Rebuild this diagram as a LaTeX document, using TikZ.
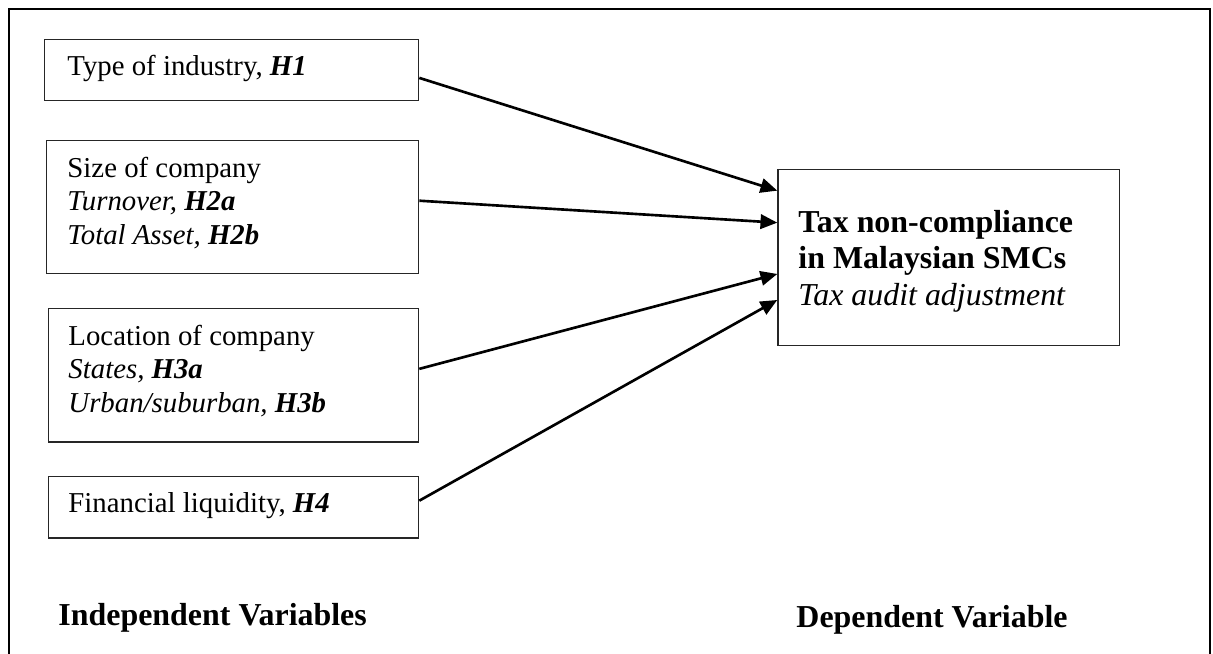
\documentclass[tikz,border=0pt]{standalone}
\usepackage{fontspec}
\setmainfont{Liberation Serif}
\usetikzlibrary{arrows.meta,calc}
\begin{document}
\begin{tikzpicture}[x=0.41667pt,y=-0.41667pt,
  box/.style={draw=black!85,line width=0.55pt,inner sep=0pt,anchor=north west},
  txt/.style={inner sep=0pt,anchor=base west,font=\fontsize{12}{14}\selectfont},
  big/.style={inner sep=0pt,anchor=base west,font=\fontsize{13.3}{15.2}\selectfont},
  arr/.style={line width=1.1pt,-{Triangle[length=7pt,width=6pt]}}]
\useasboundingbox (0,0) rectangle (1213,653);
\clip (0,0) rectangle (1213,653);
\draw[line width=1.2pt] (9,9) rectangle (1210,720);
% boxes
\node[box,minimum width=374*0.41667pt,minimum height=61.3*0.41667pt] (b1) at (44,38.7) {};
\node[box,minimum width=372*0.41667pt,minimum height=133.3*0.41667pt] (b2) at (46,139.7) {};
\node[box,minimum width=370*0.41667pt,minimum height=133.6*0.41667pt] (b3) at (48,307.7) {};
\node[box,minimum width=370*0.41667pt,minimum height=61.6*0.41667pt] (b4) at (48,475.7) {};
\node[box,minimum width=341.7*0.41667pt,minimum height=176*0.41667pt] (t) at (777.3,169) {};
% texts
\node[txt] (l1) at (67,75) {Type of industry, \textbf{\textit{H1}}};
\node[txt] (l2a) at (67,177) {Size of company};
\node[txt] (l2b) at (67,210.5) {\textit{Turnover,} \textbf{\textit{H2a}}};
\node[txt] (l2c) at (67,244) {\textit{Total Asset,} \textbf{\textit{H2b}}};
\node[txt] (l3a) at (68,345) {Location of company};
\node[txt] (l3b) at (68,378.5) {\textit{States,} \textbf{\textit{H3a}}};
\node[txt] (l3c) at (68,412) {\textit{Urban/suburban,} \textbf{\textit{H3b}}};
\node[txt] (l4) at (68,512) {Financial liquidity, \textbf{\textit{H4}}};
\node[big] (ta) at (798,232) {\textbf{Tax non-compliance}};
\node[big] (tb) at (798,268.5) {\textbf{in Malaysian SMCs}};
\node[big] (tc) at (798,305) {\textit{Tax audit adjustment}};
\node[big] (iv) at (58,625) {\textbf{Independent Variables}};
\node[big] (dv) at (796,627) {\textbf{Dependent Variable}};
% arrows
\draw[arr] ($(b1.east)+(0,7.9)$) -- ($(t.west)+(0,-67)$);
\draw[arr] ($(b2.east)+(0,-6.3)$) -- ($(t.west)+(0,-35)$);
\draw[arr] ($(b3.east)+(0,-6.3)$) -- ($(t.west)+(0,16.3)$);
\draw[arr] ($(b4.east)+(0,-6.5)$) -- ($(t.west)+(0,42.3)$);
\end{tikzpicture}
\end{document}
